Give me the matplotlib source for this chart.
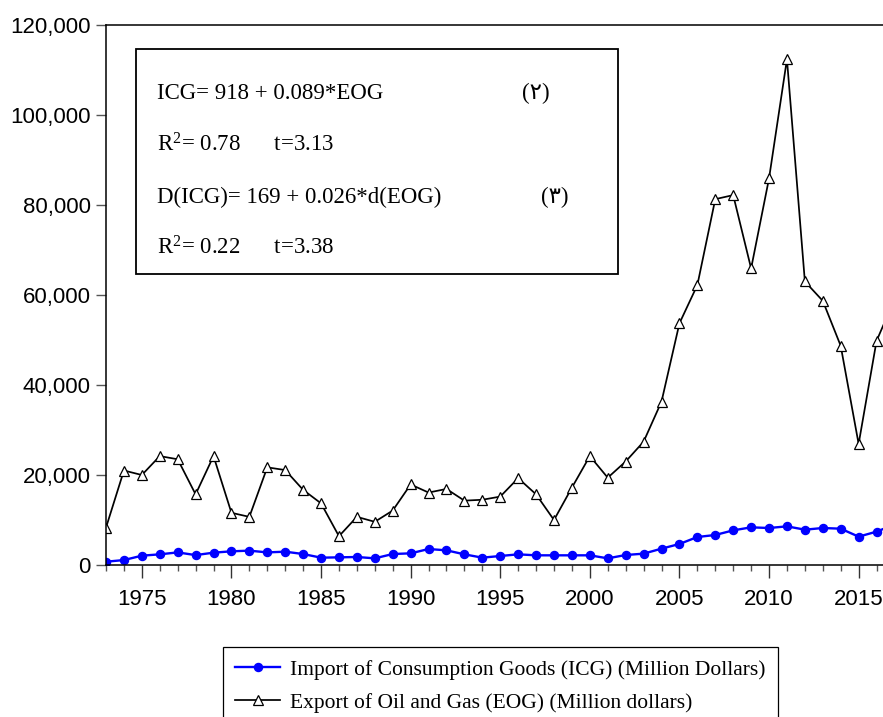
import matplotlib
matplotlib.use("Agg")
import matplotlib.pyplot as plt
from matplotlib.ticker import MultipleLocator, FuncFormatter
from matplotlib.patches import Rectangle

"""
Imports of consumption goods vs exports of oil and gas, 1973-2017
"""
years = list(range(1973, 2018))

icg = [730, 1100, 2070, 2370, 2800, 2200, 2740, 3040, 3190, 2800,
       2960, 2440, 1630, 1700, 1780, 1480, 2440, 2590, 3550, 3260,
       2370, 1630, 2000, 2370, 2150, 2150, 2150, 2150, 1480, 2220,
       2520, 3630, 4670, 6220, 6670, 7700, 8370, 8220, 8590, 7850,
       8220, 8070, 6300, 7410, 9000]

eog = [8300, 21000, 20000, 24200, 23500, 15700, 24200, 11600, 10700, 21700,
       21100, 16700, 13700, 6400, 10700, 9600, 12100, 17900, 16100, 16900,
       14300, 14500, 15200, 19300, 15700, 10000, 17200, 24200, 19400, 23000,
       27400, 36300, 53700, 62200, 81300, 82200, 65900, 85900, 112400, 63000,
       58700, 48700, 26900, 49800, 59000]

icg_label = "Import of Consumption Goods (ICG) (Million Dollars)"
eog_label = "Export of Oil and Gas (EOG) (Million dollars)"

eq_lines = ["ICG= 918 + 0.089*EOG",
            "R$^{2}$= 0.78      t=3.13",
            "D(ICG)= 169 + 0.026*d(EOG)",
            "R$^{2}$= 0.22      t=3.38"]
eq_numbers = ["(\u0662)", "(\u0663)"]

serif = ["Liberation Serif", "DejaVu Sans"]
plt.rcParams["mathtext.fontset"] = "custom"
plt.rcParams["mathtext.rm"] = "Liberation Serif"
plt.rcParams["mathtext.it"] = "Liberation Serif:italic"
plt.rcParams["mathtext.default"] = "regular"

fig = plt.figure(figsize=(8.83, 7.17), dpi=100)
ax = fig.add_axes([106 / 883, 1 - 565 / 717, 1 - 106 / 883, 540 / 717])

ax.plot(years, icg, color="#0000ff", lw=1.7, marker="o", ms=5.8,
        mec="#0000ff", mfc="#0000ff", label=icg_label)
ax.plot(years, eog, color="black", lw=1.25, marker="^", ms=6.8,
        mec="black", mfc="white", mew=0.9, label=eog_label)

ax.set_xlim(1973, 2016.36)
ax.set_ylim(0, 120000)

ax.xaxis.set_major_locator(MultipleLocator(5))
ax.xaxis.set_minor_locator(MultipleLocator(1))
ax.yaxis.set_major_locator(MultipleLocator(20000))
ax.yaxis.set_major_formatter(FuncFormatter(lambda v, p: f"{int(v):,}"))

ax.tick_params(axis="x", which="major", direction="out", length=9, width=1,
               color="#333333", pad=8, labelsize=16)
ax.tick_params(axis="x", which="minor", direction="out", length=4.5, width=1,
               color="#555555")
ax.tick_params(axis="y", which="major", direction="out", length=7, width=1,
               color="#555555", pad=4, labelsize=16)
for lab in ax.get_xticklabels() + ax.get_yticklabels():
    lab.set_family("Liberation Sans")

for side in ["left", "bottom", "top"]:
    ax.spines[side].set_linewidth(1.1)
ax.spines["right"].set_visible(False)

# equation box
box_left = (136 - 106) / 777
box_right = (618 - 106) / 777
box_top = (565 - 49) / 540
box_bottom = (565 - 274) / 540
ax.add_patch(Rectangle((box_left, box_bottom), box_right - box_left,
                       box_top - box_bottom, transform=ax.transAxes,
                       fill=True, facecolor="white", edgecolor="black",
                       lw=1.3, zorder=5))

line_y = [0.874, 0.778, 0.680, 0.587]
for txt, yy in zip(eq_lines, line_y):
    ax.text(0.0656, yy, txt, transform=ax.transAxes, fontsize=16.5,
            family=serif, va="center", ha="left", zorder=6)

ax.text(0.535, line_y[0], eq_numbers[0], transform=ax.transAxes, fontsize=16.5,
        family=serif, va="center", ha="left", zorder=6)
ax.text(0.560, line_y[2], eq_numbers[1], transform=ax.transAxes, fontsize=16.5,
        family=serif, va="center", ha="left", zorder=6)

leg = fig.legend(loc="upper left", bbox_to_anchor=(223 / 883, 1 - 647 / 717),
                 prop={"family": "Liberation Serif", "size": 15.5},
                 frameon=True, fancybox=False, shadow=False, framealpha=1,
                 edgecolor="black", borderpad=0.58, labelspacing=0.62,
                 handlelength=2.05, handletextpad=0.5, borderaxespad=0)
leg.get_frame().set_linewidth(0.9)

fig.savefig("out.png", dpi=100)
